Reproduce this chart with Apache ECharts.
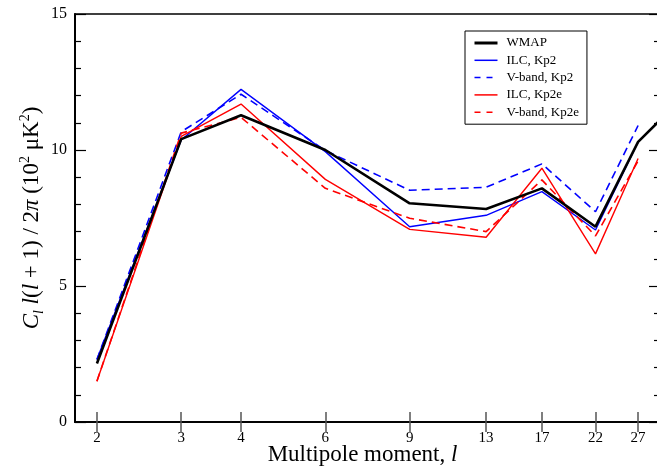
<!DOCTYPE html>
<html><head><meta charset="utf-8">
<script src="https://cdn.jsdelivr.net/npm/echarts@6/dist/echarts.min.js"></script>
<style>html,body{margin:0;padding:0;background:#fff}#c{width:657px;height:466px}</style>
</head><body><div id="c"></div>
<script>
var ells = [2, 3, 4, 6, 9, 13, 17, 22, 27];
var wmapL = [2, 3, 4, 6, 9, 13, 17, 22, 27, 34];
var wmap = [2.15, 10.4, 11.28, 10.0, 8.04, 7.83, 8.59, 7.18, 10.3, 12.05];
var ilcKp2 = [2.3, 10.37, 12.23, 9.94, 7.18, 7.6, 8.47, 7.06, 10.3];
var vKp2 = [2.3, 10.67, 12.05, 9.98, 8.52, 8.63, 9.49, 7.73, 10.9];
var ilcKp2e = [1.5, 10.5, 11.69, 8.92, 7.08, 6.79, 9.33, 6.18, 9.69];
var vKp2e = [1.5, 10.62, 11.2, 8.59, 7.49, 7.0, 8.9, 6.84, 9.6];
var names = ['WMAP', 'ILC, Kp2', 'V-band, Kp2', 'ILC, Kp2e', 'V-band, Kp2e'];

function pairs(xs, ys) { return ys.map(function (v, i) { return [xs[i], v]; }); }

var serif = 'Liberation Serif';
var chart = echarts.init(document.getElementById('c'));
var tickCommon = { show: true, inside: true, customValues: ells, length: 10, lineStyle: { color: '#555', width: 1.5 } };
chart.setOption({
  animation: false,
  grid: { left: 75, top: 14, width: 585, height: 408, outerBoundsMode: 'none', containLabel: false,
    show: true, borderColor: '#000', borderWidth: 1.5, backgroundColor: 'transparent' },
  legend: {
    left: 465, top: 31, orient: 'vertical',
    data: [
      { name: names[0], lineStyle: { width: 3 } },
      { name: names[1], lineStyle: { width: 1.5 } },
      { name: names[2], lineStyle: { width: 1.5, type: [6, 6] } },
      { name: names[3], lineStyle: { width: 1.5 } },
      { name: names[4], lineStyle: { width: 1.5, type: [6, 6] } }
    ],
    backgroundColor: '#fff', borderColor: '#000', borderWidth: 1,
    padding: [5, 8, 5, 8], itemWidth: 23, itemHeight: 14, itemGap: 3.3,
    itemStyle: { opacity: 0 },
    textStyle: { fontFamily: serif, fontSize: 13, color: '#000', lineHeight: 14, padding: [0, 0, 0, 4] }
  },
  xAxis: [{
    type: 'log', logBase: 10, min: 1.8, max: 30, position: 'bottom',
    axisLine: { show: true, lineStyle: { color: '#000', width: 1.5 } },
    axisTick: tickCommon,
    minorTick: { show: false },
    splitLine: { show: false },
    axisLabel: { customValues: ells, margin: 9, fontFamily: serif, fontSize: 15, color: '#000' },
    name: 'Multipole moment, {i|l}', nameLocation: 'middle', nameGap: 21, nameMoveOverlap: false,
    nameTextStyle: { fontFamily: serif, fontSize: 23, color: '#000', padding: [0, 10, 0, 0],
      rich: { i: { fontFamily: serif, fontStyle: 'italic', fontSize: 23, color: '#000' } } }
  }, {
    type: 'log', logBase: 10, min: 1.8, max: 30, position: 'top',
    axisLine: { show: true, lineStyle: { color: '#000', width: 1.5 } },
    axisTick: tickCommon,
    splitLine: { show: false },
    axisLabel: { show: false }
  }],
  yAxis: [{
    type: 'value', min: 0, max: 15, interval: 5, position: 'left',
    axisLine: { show: true, lineStyle: { color: '#000', width: 2 } },
    axisTick: { show: true, inside: true, length: 11, lineStyle: { color: '#000', width: 1.2 } },
    minorTick: { show: true, splitNumber: 5, length: 6, lineStyle: { color: '#000', width: 1.2 } },
    splitLine: { show: false },
    axisLabel: { margin: 8, fontFamily: serif, fontSize: 16, color: '#000' },
    name: '{i|C}{sub|l} {i|l}({i|l} + 1) / 2{i|π} (10{sup|2} μK{sup|2})',
    nameLocation: 'middle', nameRotate: 90, nameGap: 29, nameMoveOverlap: false,
    nameTextStyle: { fontFamily: serif, fontSize: 23, color: '#000', lineHeight: 28,
      rich: {
        i: { fontFamily: serif, fontStyle: 'italic', fontSize: 23, color: '#000', lineHeight: 28 },
        sub: { fontFamily: serif, fontStyle: 'italic', fontSize: 14, color: '#000', verticalAlign: 'bottom', lineHeight: 24 },
        sup: { fontFamily: serif, fontSize: 14, color: '#000', verticalAlign: 'top', lineHeight: 22 }
      } }
  }, {
    type: 'value', min: 0, max: 15, interval: 5, position: 'right',
    axisLine: { show: true, lineStyle: { color: '#000', width: 1.5 } },
    axisTick: { show: true, inside: true, length: 11, lineStyle: { color: '#000', width: 1.2 } },
    minorTick: { show: true, splitNumber: 5, length: 6, lineStyle: { color: '#000', width: 1.2 } },
    splitLine: { show: false },
    axisLabel: { show: false }
  }],
  series: [
    { name: names[0], type: 'line', data: pairs(wmapL, wmap), symbol: 'none', z: 5,
      lineStyle: { color: '#000', width: 2.6 }, itemStyle: { color: '#000' } },
    { name: names[1], type: 'line', data: pairs(ells, ilcKp2), symbol: 'none',
      lineStyle: { color: '#0000ff', width: 1.4 }, itemStyle: { color: '#0000ff' } },
    { name: names[2], type: 'line', data: pairs(ells, vKp2), symbol: 'none',
      lineStyle: { color: '#0000ff', width: 1.6, type: [8, 5] }, itemStyle: { color: '#0000ff' } },
    { name: names[3], type: 'line', data: pairs(ells, ilcKp2e), symbol: 'none',
      lineStyle: { color: '#ff0000', width: 1.4 }, itemStyle: { color: '#ff0000' } },
    { name: names[4], type: 'line', data: pairs(ells, vKp2e), symbol: 'none',
      lineStyle: { color: '#ff0000', width: 1.6, type: [8, 5] }, itemStyle: { color: '#ff0000' } }
  ]
});
</script></body></html>
